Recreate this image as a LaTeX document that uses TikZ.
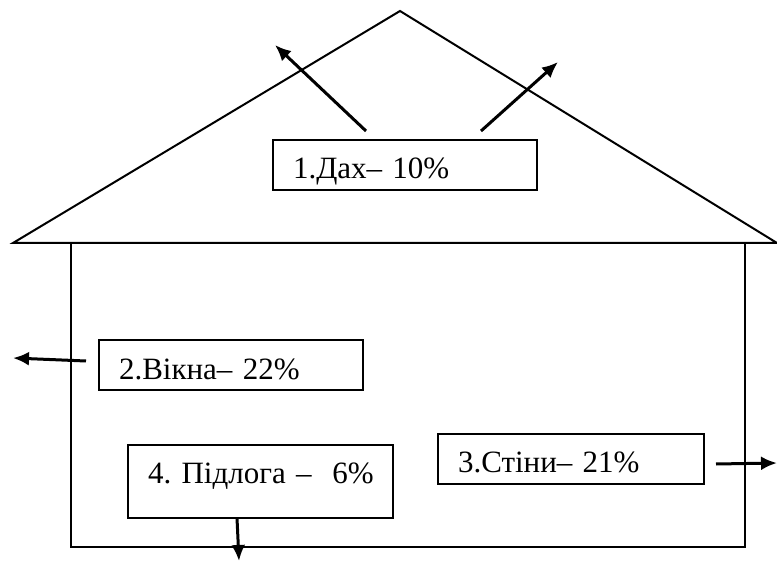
\documentclass[tikz,border=0pt]{standalone}
\usepackage{fontspec}
\setmainfont{Liberation Serif}
\usetikzlibrary{arrows.meta}
\tikzset{
  >={Latex[length=8pt,width=7pt]},
  wall/.style={line width=1pt},
  lbl/.style={draw,line width=1pt,text width=#1,align=left,inner xsep=10pt,
    inner ysep=0pt,text height=19.5pt,text depth=5.5pt,
    font=\rmfamily\fontsize{15.5}{18}\selectfont\frenchspacing},
  lbl/.default=112pt,
  loss/.style={->,line width=1.5pt},
}
\begin{document}
\begin{tikzpicture}[x=0.5pt,y=-0.5pt]
  \useasboundingbox (0,0) rectangle (777,561);
  % house
  \draw[wall] (13,243) -- (400,11) -- (777,243) -- cycle;
  \draw[wall] (71,243) rectangle (745,547);
  % shares of heat loss
  \node[lbl] (dakh) at (405,165) {1.Дах– 10\%};
  \node[lbl] (vikna) at (231,365.5) {2.Вікна– 22\%};
  \node[lbl=113pt] (stiny) at (571,459) {3.Стіни– 21\%};
  \node[lbl=112.5pt,text depth=17pt] (pidloha) at (260.5,481) {\mbox{4. Підлога –\ \ 6\%}};
  % arrows
  \coordinate (dakhA) at (366,131);   \coordinate (dakhA') at (275,45);
  \coordinate (dakhB) at (481,131);   \coordinate (dakhB') at (558,62);
  \coordinate (vikna0) at (86,361);   \coordinate (vikna1) at (13,358);
  \coordinate (stiny0) at (716,464);  \coordinate (stiny1) at (777,463);
  \coordinate (pidl0) at (237,518);   \coordinate (pidl1) at (239,561);
  \draw[loss] (dakhA) -- (dakhA');
  \draw[loss] (dakhB) -- (dakhB');
  \draw[loss] (vikna0) -- (vikna1);
  \draw[loss] (stiny0) -- (stiny1);
  \draw[loss] (pidl0) -- (pidl1);
\end{tikzpicture}
\end{document}
